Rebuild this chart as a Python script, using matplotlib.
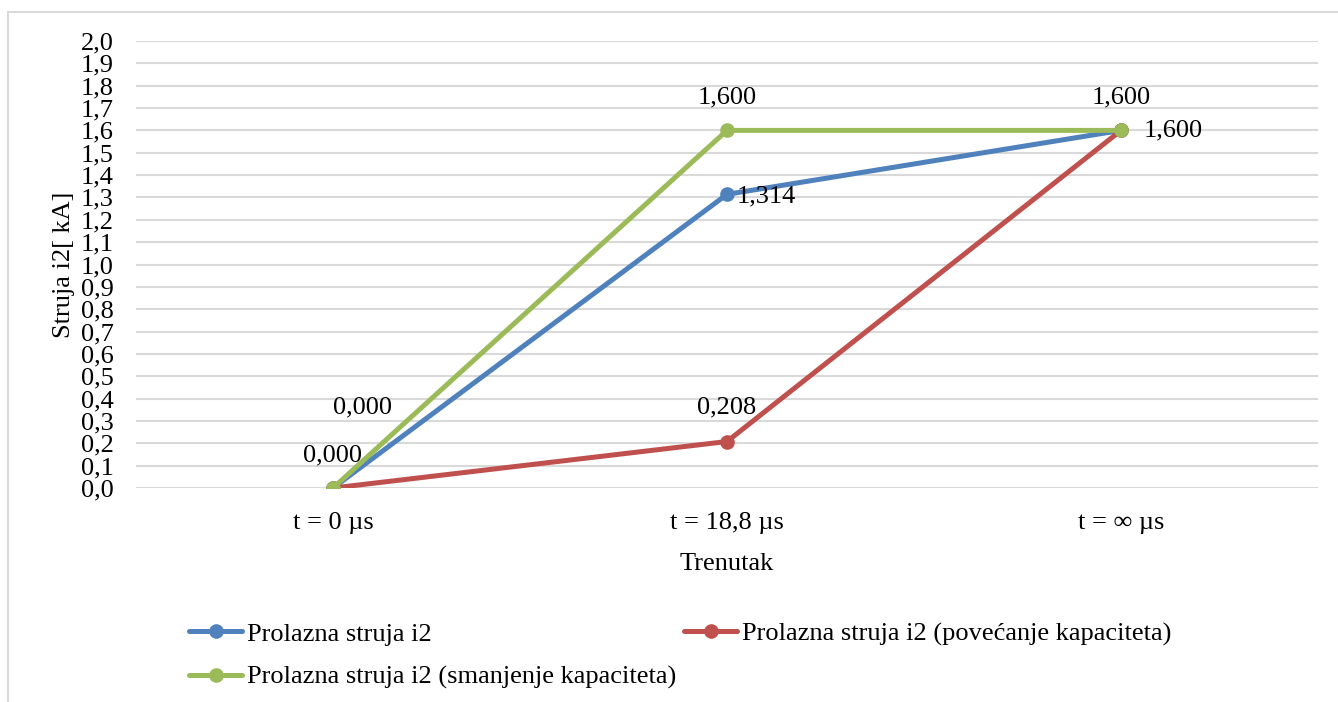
import matplotlib.pyplot as plt
from matplotlib.patches import Rectangle
from matplotlib.lines import Line2D

plt.rcParams['font.family'] = ['Liberation Serif', 'DejaVu Serif']

categories = ['t = 0 µs', 't = 18,8 µs', 't = ∞ µs']
series_names = ['Prolazna struja i2',
                'Prolazna struja i2 (povećanje kapaciteta)',
                'Prolazna struja i2 (smanjenje kapaciteta)']
i2_base = [0.000, 1.314, 1.600]
i2_more_cap = [0.000, 0.208, 1.600]
i2_less_cap = [0.000, 1.600, 1.600]
colors = ['#4F81BD', '#C0504D', '#9BBB59']
yticks = [i / 10 for i in range(21)]

FS = 19
LW = 3.6
MS = 9.5

fig = plt.figure(figsize=(13.38, 7.02), dpi=100)
ax = fig.add_axes([136 / 1338, 214 / 702, 1182 / 1338, 447 / 702])

# outer chart frame (light gray)
fig.patches.append(Rectangle((8 / 1338, -0.05), 1.2, (702 - 12) / 702 + 0.05,
                             transform=fig.transFigure, fill=False,
                             edgecolor='#D9D9D9', linewidth=1.5))

x = list(range(len(categories)))
series = [i2_base, i2_more_cap, i2_less_cap]
for vals, col, name in zip(series, colors, series_names):
    ax.plot(x, vals, color=col, linewidth=LW, marker='o', markersize=MS,
            label=name, solid_capstyle='round', zorder=3)


def fmt(v):
    return f'{v:.3f}'.replace('.', ',')


def dlabel(xi, yv, dx, dy, ha='center'):
    ax.annotate(fmt(yv), (xi, yv), xytext=(dx, dy), textcoords='offset pixels',
                ha=ha, va='center', fontsize=FS)


# data labels, placed as in the original chart
dlabel(x[0], i2_base[0], 0, 33)
dlabel(x[0], i2_less_cap[0], 29, 81)
dlabel(x[1], i2_base[1], 10, -2, ha='left')
dlabel(x[1], i2_more_cap[1], 0, 34)
dlabel(x[1], i2_less_cap[1], 0, 33)
dlabel(x[2], i2_less_cap[2], 0, 33)
dlabel(x[2], i2_base[2], 23, 0, ha='left')

ax.set_xlim(-0.5, 2.5)
ax.set_ylim(0, 2.0)
ax.set_xticks(x)
ax.set_xticklabels(categories, fontsize=FS)
ax.set_yticks(yticks)
ax.set_yticklabels([f'{t:.1f}'.replace('.', ',') for t in yticks], fontsize=FS)
ax.tick_params(axis='y', length=0, pad=16)
ax.tick_params(axis='x', length=0, pad=17)
ax.grid(axis='y', color='#D9D9D9', linewidth=1.5)
ax.set_axisbelow(True)
for s in ax.spines.values():
    s.set_visible(False)

ax.set_xlabel('Trenutak', fontsize=FS, labelpad=14)
ax.set_ylabel('Struja i2[ kA]', fontsize=FS, labelpad=4)

handles = [Line2D([], [], color=c, linewidth=LW, marker='o', markersize=MS,
                  solid_capstyle='round') for c in colors]
# order so that columns fill as: row 1 blue/red, row 2 green
order = [0, 2, 1]
fig.legend([handles[i] for i in order], [series_names[i] for i in order],
           loc='upper left', bbox_to_anchor=(176 / 1338, 1 - 609 / 702),
           ncol=2, frameon=False, fontsize=FS, borderpad=0,
           handlelength=2.0, handletextpad=0.2,
           columnspacing=0.3, labelspacing=0.75)

fig.savefig('out.png', dpi=100, facecolor='white')
